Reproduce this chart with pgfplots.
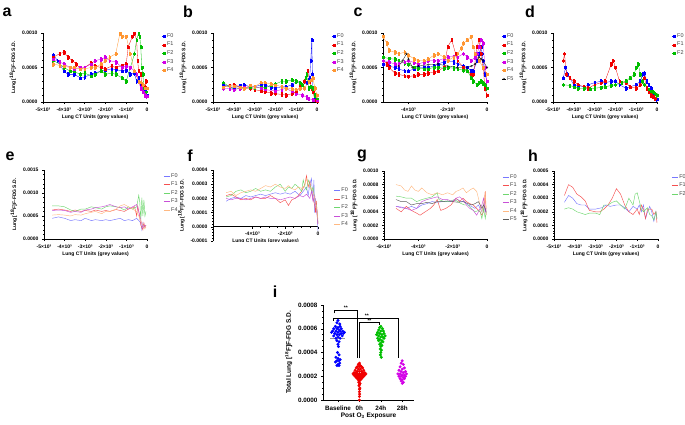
\documentclass[border=0pt]{standalone}
\usepackage{pgfplots}
\pgfplotsset{compat=1.18}
\usepackage{fontspec}
\setmainfont{Liberation Sans}
\definecolor{cF0}{RGB}{0,0,255}
\definecolor{cF1}{RGB}{240,0,0}
\definecolor{cF2}{RGB}{0,190,0}
\definecolor{cF3}{RGB}{210,0,230}
\definecolor{cF4}{RGB}{255,150,50}
\definecolor{cF5}{RGB}{40,40,40}
\definecolor{lF0}{RGB}{120,120,255}
\definecolor{lF1}{RGB}{245,80,80}
\definecolor{lF2}{RGB}{110,215,110}
\definecolor{lF3}{RGB}{200,80,215}
\definecolor{lF4}{RGB}{255,185,130}
\definecolor{lF5}{RGB}{90,90,90}
\pgfplotsset{
 gp/.style={scale only axis, axis x line*=bottom, axis y line*=left,
  axis line style={line width=0.7pt,-}, tick align=outside,
  major tick length=2pt, minor tick length=1pt,
  every tick/.style={black,line width=0.5pt},
  scaled ticks=false,
  tick label style={font=\fontsize{5}{5}\selectfont\bfseries},
  label style={font=\fontsize{5}{6}\selectfont\bfseries},
  xlabel={Lung CT Units (grey values)},
  ylabel={Lung [\textsuperscript{18}F]F-FDG S.D.},
  xlabel style={yshift=3pt}, ylabel style={yshift=-1pt},
  minor x tick num=4, minor y tick num=4,
  legend style={draw=none, fill=none, font=\fontsize{5.5}{6}\selectfont\color{black!75},
   at={(1.11,1.04)}, anchor=north west, row sep=0.8pt, nodes={inner sep=1.2pt}},
  legend cell align=left,
 },
 mk/.style={#1, line width=0.3pt, mark=square*, mark size=0.9pt, mark options={solid},
   error bars/.cd, y dir=both, y fixed=0.000025,
   error bar style={#1, line width=0.3pt}},
 ln/.style={#1, line width=0.45pt, no marks},
 mkleg/.style={legend image code/.code={\draw[##1,mark repeat=2,mark phase=2] plot coordinates {(0pt,0pt)(2pt,0pt)(4pt,0pt)};}},
 lnleg/.style={legend image code/.code={\draw[##1] plot coordinates {(0pt,0pt)(6pt,0pt)};}},
 xa/.style={xmin=-5000, xmax=0, xtick={-5000,-4000,-3000,-2000,-1000,0},
   xticklabels={-5×10³,-4×10³,-3×10³,-2×10³,-1×10³,0}},
 ya/.style={ymin=0, ymax=0.001, ytick={0,0.0005,0.001}, yticklabels={0.0000,0.0005,0.0010}},
}
\begin{document}
\begin{tikzpicture}[x=1pt,y=1pt]
\path[use as bounding box] (0,0) rectangle (685,424);
\begin{scope}[font=\fontsize{16}{16}\selectfont\bfseries]
\node at (7,412) {a};
\node at (188,412) {b};
\node at (358,412) {c};
\node at (530,412) {d};
\node at (10,268) {e};
\node at (190,268) {f};
\node at (362,268) {g};
\node at (533,268) {h};
\node at (275,132) {i};
\end{scope}

% ---------- a ----------
\begin{axis}[gp, mkleg, xa, ya, at={(43pt,322pt)}, anchor=south west, width=104pt, height=69pt]
\addplot[mk=cF0] coordinates {(-4500,0.00068)(-4300,0.0006)(-4000,0.00045)(-3800,0.0004)(-3500,0.0004)(-3200,0.00035)(-3000,0.00036)(-2700,0.0004)(-2500,0.00042)(-2200,0.00045)(-2000,0.00046)(-1700,0.00048)(-1500,0.00047)(-1200,0.00045)(-1000,0.00046)(-800,0.0004)(-600,0.00042)(-500,0.0003)(-400,0.00035)(-300,0.00025)(-250,0.0002)(-200,0.00025)(-150,0.00015)(-100,0.00018)(-50,0.0001)(0,0.0001)};
\addlegendentry{F0}
\addplot[mk=cF1] coordinates {(-4500,0.00065)(-4200,0.0007)(-4000,0.00072)(-3800,0.00065)(-3600,0.0006)(-3400,0.00055)(-3200,0.00048)(-3000,0.0005)(-2700,0.00056)(-2500,0.00052)(-2200,0.0005)(-2000,0.00048)(-1700,0.00052)(-1500,0.0005)(-1200,0.00053)(-1000,0.00055)(-900,0.0008)(-700,0.00095)(-600,0.001)(-500,0.0009)(-450,0.0006)(-400,0.00045)(-300,0.0004)(-250,0.00025)(-200,0.0002)(-100,0.00022)(-50,0.0003)};
\addlegendentry{F1}
\addplot[mk=cF2] coordinates {(-4500,0.0006)(-4200,0.00055)(-4000,0.0005)(-3700,0.00045)(-3500,0.00044)(-3200,0.0004)(-3000,0.00042)(-2700,0.00038)(-2500,0.0004)(-2200,0.00045)(-2000,0.0004)(-1700,0.00042)(-1500,0.0004)(-1200,0.00035)(-1000,0.0003)(-800,0.0005)(-600,0.0007)(-500,0.0009)(-400,0.001)(-350,0.00095)(-300,0.0008)(-250,0.0005)(-200,0.0004)(-150,0.0002)(-100,0.00015)(-50,0.00015)};
\addlegendentry{F2}
\addplot[mk=cF3] coordinates {(-4500,0.00062)(-4200,0.00058)(-4000,0.00055)(-3700,0.0005)(-3500,0.00048)(-3200,0.0005)(-3000,0.0005)(-2700,0.00055)(-2500,0.0006)(-2200,0.00062)(-2000,0.00065)(-1800,0.0006)(-1500,0.00058)(-1200,0.0005)(-1000,0.00052)(-800,0.0005)(-600,0.00045)(-500,0.0004)(-400,0.0003)(-300,0.0002)(-200,0.00015)(-100,0.0001)(0,0.00008)};
\addlegendentry{F3}
\addplot[mk=cF4] coordinates {(-4500,0.00055)(-4200,0.00053)(-4000,0.00052)(-3700,0.0005)(-3500,0.0005)(-3200,0.00048)(-3000,0.00048)(-2700,0.0005)(-2500,0.0005)(-2200,0.00055)(-2000,0.0006)(-1800,0.00065)(-1500,0.0007)(-1300,0.001)(-1200,0.00095)(-1000,0.00095)(-800,0.0007)(-600,0.00045)(-400,0.0003)(-300,0.00028)(-200,0.00025)(-100,0.0002)(0,0.0002)};
\addlegendentry{F4}
\end{axis}

% ---------- b ----------
\begin{axis}[gp, mkleg, xa, ya, at={(213pt,322pt)}, anchor=south west, width=104pt, height=69pt]
\addplot[mk=cF0] coordinates {(-4500,0.00025)(-4200,0.00022)(-4000,0.0002)(-3700,0.00024)(-3500,0.00025)(-3200,0.00022)(-3000,0.00022)(-2700,0.00025)(-2500,0.00025)(-2200,0.00021)(-2000,0.0002)(-1700,0.00022)(-1500,0.00022)(-1200,0.00025)(-1000,0.0003)(-800,0.00028)(-700,0.00025)(-500,0.00028)(-400,0.00032)(-350,0.00035)(-300,0.0006)(-250,0.0009)(-220,0.0004)(-200,0.0002)(-100,0.00005)(0,0.00002)};
\addlegendentry{F0}
\addplot[mk=cF1] coordinates {(-4500,0.00022)(-4200,0.00024)(-4000,0.00025)(-3700,0.00022)(-3500,0.0002)(-3200,0.0002)(-3000,0.00018)(-2700,0.00016)(-2500,0.00015)(-2200,0.00013)(-2000,0.00012)(-1700,0.00011)(-1500,0.0001)(-1200,0.00012)(-1000,0.00015)(-800,0.00022)(-600,0.0003)(-500,0.0004)(-450,0.00045)(-350,0.0003)(-250,0.0002)(-200,0.00015)(-100,0.00003)(0,0.00001)};
\addlegendentry{F1}
\addplot[mk=cF2] coordinates {(-4500,0.00028)(-4200,0.00022)(-4000,0.00018)(-3700,0.0002)(-3500,0.0002)(-3200,0.00021)(-3000,0.0002)(-2700,0.00022)(-2500,0.0002)(-2200,0.00025)(-2000,0.00026)(-1700,0.0003)(-1500,0.0003)(-1200,0.00032)(-1000,0.0003)(-800,0.00028)(-700,0.00025)(-550,0.00035)(-500,0.0004)(-400,0.0002)(-300,0.00022)(-200,0.0002)(-100,0.0001)(0,0.00005)};
\addlegendentry{F2}
\addplot[mk=cF3] coordinates {(-4500,0.0002)(-4200,0.00019)(-4000,0.00018)(-3700,0.0002)(-3500,0.00021)(-3000,0.00022)(-2700,0.0002)(-2500,0.00018)(-2000,0.00016)(-1700,0.00018)(-1500,0.0002)(-1200,0.00015)(-1000,0.00012)(-700,0.0001)(-500,0.00007)(-400,0.00005)(-200,0.00003)(0,0.00002)};
\addlegendentry{F3}
\addplot[mk=cF4] coordinates {(-4500,0.00022)(-4200,0.00023)(-4000,0.00023)(-3700,0.00021)(-3500,0.0002)(-3200,0.00024)(-3000,0.00022)(-2700,0.00028)(-2500,0.00028)(-2200,0.00026)(-2000,0.00025)(-1700,0.00022)(-1500,0.0002)(-1200,0.00019)(-1000,0.00018)(-800,0.0002)(-600,0.0002)(-400,0.0003)(-300,0.00032)(-200,0.00035)(-100,0.0002)(0,0.0001)};
\addlegendentry{F4}
\end{axis}

% ---------- c ----------
\begin{axis}[gp, mkleg, ya, at={(383pt,322pt)}, anchor=south west, width=104pt, height=69pt,
  xmin=-5300, xmax=0, xtick={-4000,-2000,0}, xticklabels={-4×10³,-2×10³,0}, minor x tick num=3]
\addplot[mk=cF0] coordinates {(-5300,0.00055)(-5000,0.00052)(-4700,0.0005)(-4500,0.00048)(-4200,0.00045)(-4000,0.00045)(-3700,0.00048)(-3500,0.0005)(-3200,0.0005)(-3000,0.0005)(-2700,0.00052)(-2500,0.00055)(-2200,0.00058)(-2000,0.0006)(-1700,0.00058)(-1500,0.00055)(-1200,0.00052)(-1000,0.0005)(-800,0.00045)(-700,0.00045)(-500,0.0006)(-400,0.0007)(-300,0.0008)(-250,0.0007)(-200,0.0006)(-100,0.0004)(0,0.0003)};
\addlegendentry{F0}
\addplot[mk=cF1] coordinates {(-5300,0.0006)(-5100,0.00055)(-5000,0.0005)(-4700,0.00042)(-4500,0.0004)(-4200,0.00038)(-4000,0.00037)(-3700,0.00038)(-3500,0.0004)(-3200,0.0004)(-3000,0.00042)(-2700,0.00043)(-2500,0.00045)(-2200,0.0005)(-2000,0.0008)(-1800,0.0009)(-1600,0.0007)(-1500,0.0006)(-1200,0.0005)(-1000,0.00045)(-800,0.0004)(-700,0.0004)(-500,0.0008)(-400,0.0009)(-350,0.0008)(-300,0.0007)(-200,0.0005)(-100,0.0002)(0,0.0001)};
\addlegendentry{F1}
\addplot[mk=cF2] coordinates {(-5300,0.00065)(-5000,0.00063)(-4700,0.00062)(-4500,0.0006)(-4200,0.00056)(-4000,0.00055)(-3700,0.0005)(-3500,0.00049)(-3200,0.00048)(-3000,0.00048)(-2700,0.0005)(-2500,0.0005)(-2200,0.00049)(-2000,0.0005)(-1700,0.00049)(-1500,0.00048)(-1200,0.00046)(-1000,0.00045)(-800,0.00035)(-700,0.0003)(-500,0.00025)(-400,0.00028)(-300,0.0003)(-200,0.00027)(-100,0.00025)(0,0.0002)};
\addlegendentry{F2}
\addplot[mk=cF3] coordinates {(-5300,0.0006)(-5000,0.00058)(-4700,0.00055)(-4500,0.00055)(-4200,0.00058)(-4000,0.0006)(-3700,0.00057)(-3500,0.00055)(-3200,0.00058)(-3000,0.0006)(-2700,0.0006)(-2500,0.0006)(-2200,0.00063)(-2000,0.00065)(-1700,0.00066)(-1500,0.00065)(-1200,0.0007)(-1000,0.00065)(-800,0.0006)(-600,0.00065)(-500,0.0007)(-400,0.0008)(-300,0.0009)(-200,0.00085)(-100,0.0005)(0,0.0003)};
\addlegendentry{F3}
\addplot[mk=cF4] coordinates {(-5300,0.00095)(-5100,0.00085)(-5000,0.00075)(-4700,0.00072)(-4500,0.0007)(-4200,0.00072)(-4000,0.00068)(-3700,0.00062)(-3500,0.0006)(-3200,0.0006)(-3000,0.00062)(-2700,0.00068)(-2500,0.0007)(-2200,0.00065)(-2000,0.0006)(-1700,0.00065)(-1500,0.0007)(-1300,0.00078)(-1200,0.00085)(-1000,0.0009)(-800,0.00095)(-700,0.0008)(-600,0.0007)(-400,0.0006)(-200,0.0005)(0,0.0004)};
\addlegendentry{F4}
\addplot[black, line width=0.3pt, mark=o, mark size=0.9pt, mark options={solid}] coordinates {(-4500,0.00052)(-4300,0.0006)(-4100,0.0007)(-4000,0.00062)(-3800,0.0005)(-3500,0.00052)(-3000,0.00054)(-2500,0.00055)(-2000,0.00052)(-1500,0.0005)(-1000,0.0005)(-800,0.00052)(-600,0.00055)(-400,0.00065)(-300,0.00062)(-200,0.0006)(0,0.0005)};
\addlegendentry{F5}
\end{axis}

% ---------- d ----------
\begin{axis}[gp, mkleg, xa, ya, at={(553pt,322pt)}, anchor=south west, width=104pt, height=69pt]
\addplot[mk=cF0] coordinates {(-4500,0.00035)(-4400,0.0005)(-4300,0.0004)(-4000,0.00025)(-3800,0.00024)(-3500,0.00022)(-3300,0.00025)(-3000,0.00028)(-2700,0.0003)(-2500,0.00028)(-2200,0.0003)(-2000,0.0003)(-1800,0.00025)(-1500,0.0002)(-1300,0.00022)(-1000,0.00025)(-800,0.0003)(-700,0.0004)(-600,0.00042)(-500,0.0003)(-400,0.00025)(-300,0.0002)(-200,0.0001)(-100,0.00005)(0,0.00004)};
\addlegendentry{F0}
\addplot[mk=cF1] coordinates {(-4500,0.0006)(-4450,0.0007)(-4350,0.0004)(-4200,0.00035)(-4000,0.0003)(-3800,0.00025)(-3500,0.00022)(-3300,0.0002)(-3000,0.00025)(-2700,0.00028)(-2500,0.0003)(-2200,0.00055)(-2100,0.0006)(-2000,0.0005)(-1800,0.0003)(-1500,0.00028)(-1300,0.00022)(-1000,0.0002)(-800,0.00025)(-700,0.0003)(-600,0.00035)(-500,0.0002)(-400,0.00015)(-300,0.0001)(-200,0.00008)(-100,0.00005)(0,0.0001)};
\addlegendentry{F1}
\addplot[mk=cF2] coordinates {(-4500,0.00025)(-4200,0.00024)(-4000,0.00022)(-3800,0.0002)(-3500,0.0002)(-3200,0.00019)(-3000,0.0002)(-2700,0.00021)(-2500,0.00022)(-2200,0.00024)(-2000,0.00025)(-1700,0.00028)(-1500,0.0003)(-1300,0.00035)(-1100,0.0004)(-1000,0.0005)(-900,0.00055)(-800,0.0004)(-700,0.0003)(-600,0.00025)(-400,0.00018)(-300,0.00016)(-200,0.00015)(-100,0.00012)(0,0.0001)};
\addlegendentry{F2}
\end{axis}

% ---------- e ----------
\begin{axis}[gp, lnleg, xa, at={(44pt,185pt)}, anchor=south west, width=103pt, height=69pt,
  ymin=0, ymax=0.0015, ytick={0,0.0005,0.001,0.0015}, yticklabels={0.0000,0.0005,0.0010,0.0015},
  legend style={at={(1.13,1.0)}}]
\addplot[ln=lF0] coordinates {(-4600,0.00045)(-4300,0.00048)(-4000,0.00045)(-3700,0.0004)(-3500,0.00042)(-3200,0.0004)(-3000,0.00045)(-2700,0.0004)(-2500,0.00042)(-2200,0.0004)(-2000,0.00042)(-1800,0.0004)(-1500,0.00043)(-1300,0.00045)(-1100,0.0004)(-900,0.00042)(-700,0.0004)(-500,0.00045)(-400,0.0004)(-300,0.00035)(-250,0.0002)(-200,0.00035)(-150,0.00025)(-100,0.0003)(-50,0.00028)};
\addlegendentry{F0}
\addplot[ln=lF1] coordinates {(-4600,0.00063)(-4300,0.00065)(-4000,0.00063)(-3700,0.0006)(-3500,0.00063)(-3200,0.0006)(-3000,0.00062)(-2700,0.0006)(-2500,0.00063)(-2200,0.0006)(-2000,0.00062)(-1800,0.0006)(-1500,0.00064)(-1300,0.00062)(-1100,0.0006)(-900,0.00065)(-700,0.00068)(-600,0.0007)(-500,0.0005)(-450,0.00072)(-400,0.0006)(-300,0.0003)(-200,0.0002)(-150,0.00035)(-100,0.00025)(-50,0.0003)};
\addlegendentry{F1}
\addplot[ln=lF2] coordinates {(-4600,0.00072)(-4300,0.00072)(-4000,0.0007)(-3700,0.00063)(-3500,0.0006)(-3200,0.00065)(-3000,0.00065)(-2700,0.0007)(-2500,0.00068)(-2200,0.00065)(-2000,0.0007)(-1800,0.00072)(-1500,0.0007)(-1300,0.00068)(-1100,0.00063)(-900,0.0007)(-700,0.00065)(-500,0.0007)(-400,0.00095)(-350,0.0008)(-300,0.0004)(-250,0.0009)(-200,0.0005)(-150,0.00085)(-100,0.0005)(-50,0.0006)};
\addlegendentry{F2}
\addplot[ln=lF3] coordinates {(-4600,0.00062)(-4300,0.00063)(-4000,0.00062)(-3700,0.00058)(-3500,0.0006)(-3200,0.00058)(-3000,0.00063)(-2700,0.00065)(-2500,0.00068)(-2200,0.0007)(-2000,0.00072)(-1800,0.00075)(-1500,0.0007)(-1300,0.00068)(-1100,0.0007)(-900,0.00065)(-700,0.0007)(-500,0.00075)(-400,0.0006)(-300,0.0004)(-200,0.00025)(-100,0.0003)(-50,0.00025)};
\addlegendentry{F3}
\addplot[ln=lF4] coordinates {(-4600,0.00052)(-4300,0.00053)(-4000,0.00052)(-3700,0.0005)(-3500,0.00053)(-3200,0.00052)(-3000,0.00055)(-2700,0.00058)(-2500,0.0006)(-2200,0.00055)(-2000,0.0006)(-1800,0.0006)(-1500,0.00065)(-1300,0.00072)(-1100,0.00075)(-900,0.0007)(-700,0.00065)(-500,0.0006)(-400,0.0005)(-300,0.0004)(-200,0.0003)(-100,0.00022)(-50,0.0003)};
\addlegendentry{F4}
\end{axis}

% ---------- f ----------
\begin{axis}[gp, lnleg, at={(213pt,183pt)}, anchor=south west, width=105pt, height=71pt,
  axis x line*=middle, hide obscured x ticks=false, hide obscured y ticks=false,
  xmin=-6400, xmax=0, xtick={-4000,-2000,0}, xticklabels={-4×10³,-2×10³,0}, minor x tick num=3,
  ymin=-0.0001, ymax=0.0004, ytick={-0.0001,0,0.0001,0.0002,0.0003,0.0004},
  yticklabels={-0.0001,0.0000,0.0001,0.0002,0.0003,0.0004},
  xlabel={}, legend style={at={(1.12,0.8)}}]
\addplot[ln=lF0] coordinates {(-5600,0.00018)(-5300,0.0002)(-5000,0.00021)(-4700,0.0002)(-4400,0.00022)(-4100,0.00021)(-3800,0.00022)(-3500,0.00023)(-3200,0.00022)(-2900,0.00023)(-2600,0.00024)(-2300,0.00023)(-2000,0.00024)(-1700,0.00023)(-1400,0.00025)(-1100,0.00022)(-900,0.00025)(-700,0.00028)(-600,0.00022)(-500,0.0003)(-400,0.00034)(-300,0.00018)(-250,0.00033)(-200,0.0001)(-150,0.0002)(-100,0.00015)(-50,0.0001)(0,-0.00003)};
\addlegendentry{F0}
\addplot[ln=lF1] coordinates {(-5600,0.00022)(-5300,0.00023)(-5000,0.00021)(-4700,0.00019)(-4400,0.0002)(-4100,0.00019)(-3800,0.00021)(-3500,0.0002)(-3200,0.0002)(-2900,0.00022)(-2600,0.0002)(-2300,0.00017)(-2000,0.00019)(-1800,0.00015)(-1600,0.00019)(-1400,0.0002)(-1200,0.00022)(-1000,0.00025)(-800,0.0003)(-700,0.00036)(-600,0.00028)(-500,0.00032)(-400,0.00025)(-300,0.0002)(-200,0.00015)(-150,0.0001)(-100,0.00018)(-50,0.0001)(0,0.00002)};
\addlegendentry{F1}
\addplot[ln=lF2] coordinates {(-5600,0.00021)(-5300,0.00022)(-5000,0.00025)(-4700,0.00026)(-4400,0.00024)(-4100,0.00025)(-3800,0.00027)(-3500,0.00025)(-3200,0.00026)(-2900,0.00025)(-2600,0.00028)(-2300,0.0003)(-2000,0.00025)(-1800,0.00028)(-1600,0.00027)(-1400,0.0003)(-1200,0.00028)(-1000,0.00025)(-900,0.00033)(-800,0.00028)(-700,0.00026)(-600,0.00033)(-500,0.0003)(-400,0.00025)(-300,0.00028)(-200,0.0002)(-100,0.00015)(0,0.00003)};
\addlegendentry{F2}
\addplot[ln=lF3] coordinates {(-5600,0.0002)(-5300,0.00019)(-5000,0.0002)(-4700,0.0002)(-4400,0.00019)(-4100,0.0002)(-3800,0.00021)(-3500,0.0002)(-3200,0.00021)(-2900,0.0002)(-2600,0.0002)(-2300,0.00019)(-2000,0.0002)(-1700,0.00021)(-1400,0.0002)(-1100,0.00022)(-900,0.00021)(-700,0.00023)(-500,0.0002)(-400,0.00025)(-300,0.00018)(-200,0.00022)(-100,0.00012)(0,0.00002)};
\addlegendentry{F3}
\addplot[ln=lF4] coordinates {(-5600,0.00024)(-5300,0.00025)(-5000,0.00022)(-4700,0.00024)(-4400,0.00025)(-4100,0.00026)(-3800,0.00025)(-3500,0.00027)(-3200,0.00029)(-2900,0.00028)(-2600,0.0003)(-2300,0.00028)(-2000,0.00027)(-1800,0.00029)(-1600,0.00027)(-1400,0.00026)(-1200,0.00028)(-1000,0.00027)(-800,0.00029)(-700,0.00034)(-600,0.0003)(-500,0.00028)(-400,0.00027)(-300,0.00025)(-200,0.0002)(-100,0.00015)(0,0.00005)};
\addlegendentry{F4}
\node[font=\fontsize{5}{6}\selectfont\bfseries] at (axis description cs:0.5,0.0) {Lung CT Units (grey values)};
\end{axis}

% ---------- g ----------
\begin{axis}[gp, lnleg, at={(384pt,185pt)}, anchor=south west, width=103pt, height=68pt,
  xmin=-6000, xmax=0, xtick={-6000,-4000,-2000,0}, xticklabels={-6×10³,-4×10³,-2×10³,0}, minor x tick num=3,
  ymin=0, ymax=0.001, ytick={0,0.0002,0.0004,0.0006,0.0008,0.001},
  yticklabels={0.0000,0.0002,0.0004,0.0006,0.0008,0.0010},
  legend style={at={(1.12,1.0)}}]
\addplot[ln=lF0] coordinates {(-5300,0.00048)(-5000,0.00047)(-4700,0.00045)(-4400,0.00048)(-4100,0.00045)(-3800,0.0005)(-3500,0.00052)(-3200,0.00055)(-2900,0.00054)(-2600,0.00055)(-2300,0.00055)(-2000,0.00056)(-1700,0.00058)(-1500,0.00055)(-1300,0.00055)(-1100,0.0005)(-900,0.00048)(-700,0.00045)(-500,0.0005)(-400,0.00045)(-300,0.0004)(-200,0.00052)(-100,0.0004)(-50,0.00042)};
\addlegendentry{F0}
\addplot[ln=lF1] coordinates {(-5300,0.00045)(-5000,0.0004)(-4700,0.00048)(-4400,0.00042)(-4100,0.00038)(-3900,0.00035)(-3600,0.0004)(-3300,0.00045)(-3100,0.0005)(-2900,0.00058)(-2700,0.00042)(-2400,0.00045)(-2100,0.0005)(-1800,0.0006)(-1600,0.00055)(-1400,0.0006)(-1200,0.00055)(-1000,0.00052)(-800,0.0005)(-600,0.00045)(-400,0.0004)(-300,0.00035)(-200,0.0004)(-100,0.0007)(-50,0.00035)};
\addlegendentry{F1}
\addplot[ln=lF2] coordinates {(-5300,0.00063)(-5000,0.00062)(-4700,0.0006)(-4400,0.0006)(-4100,0.00055)(-3800,0.00058)(-3500,0.0006)(-3200,0.00062)(-2900,0.00068)(-2800,0.00058)(-2500,0.00055)(-2200,0.00055)(-1900,0.00058)(-1700,0.00055)(-1500,0.00052)(-1300,0.0005)(-1100,0.0005)(-900,0.00045)(-700,0.0004)(-500,0.00042)(-400,0.0004)(-300,0.0003)(-200,0.00045)(-100,0.0003)(-50,0.0004)};
\addlegendentry{F2}
\addplot[ln=lF3] coordinates {(-5300,0.00048)(-5000,0.00046)(-4700,0.00045)(-4400,0.00042)(-4100,0.00045)(-3800,0.00055)(-3500,0.00058)(-3200,0.0006)(-2900,0.00062)(-2600,0.00058)(-2300,0.00058)(-2000,0.00055)(-1800,0.0006)(-1600,0.00062)(-1400,0.00058)(-1200,0.0005)(-1000,0.00045)(-800,0.00042)(-600,0.00035)(-400,0.00045)(-300,0.0005)(-200,0.0006)(-100,0.0004)(-50,0.00045)};
\addlegendentry{F3}
\addplot[ln=lF4] coordinates {(-5300,0.0008)(-5000,0.00078)(-4800,0.00072)(-4600,0.0007)(-4400,0.00078)(-4200,0.00072)(-4000,0.0007)(-3800,0.00075)(-3500,0.00068)(-3200,0.00065)(-2900,0.00068)(-2600,0.00065)(-2300,0.00068)(-2000,0.00065)(-1800,0.0007)(-1600,0.00072)(-1400,0.00075)(-1200,0.00068)(-1000,0.00072)(-800,0.00075)(-600,0.0007)(-400,0.0005)(-300,0.0004)(-200,0.0005)(-100,0.0007)(-50,0.00045)};
\addlegendentry{F4}
\addplot[ln=lF5] coordinates {(-5300,0.00058)(-5000,0.00055)(-4700,0.00055)(-4400,0.0005)(-4100,0.00052)(-3800,0.00052)(-3500,0.00054)(-3200,0.00052)(-2900,0.00055)(-2600,0.00055)(-2300,0.00056)(-2000,0.00055)(-1700,0.00054)(-1400,0.00055)(-1100,0.00052)(-900,0.0005)(-700,0.00052)(-500,0.00055)(-400,0.0005)(-300,0.00045)(-200,0.0005)(-100,0.00045)(-50,0.0004)};
\addlegendentry{F5}
\end{axis}

% ---------- h ----------
\begin{axis}[gp, lnleg, xa, at={(554pt,185pt)}, anchor=south west, width=104pt, height=68pt,
  ymin=0, ymax=0.0005, ytick={0,0.0001,0.0002,0.0003,0.0004,0.0005},
  yticklabels={0.0000,0.0001,0.0002,0.0003,0.0004,0.0005},
  legend style={at={(1.1,1.0)}}]
\addplot[ln=lF0] coordinates {(-4500,0.00027)(-4300,0.00032)(-4100,0.0003)(-3900,0.00026)(-3700,0.00025)(-3500,0.00025)(-3300,0.00022)(-3000,0.00022)(-2700,0.00023)(-2500,0.00025)(-2300,0.00024)(-2000,0.00025)(-1800,0.00025)(-1600,0.00023)(-1400,0.0002)(-1200,0.00024)(-1000,0.00022)(-900,0.00025)(-800,0.0002)(-700,0.00025)(-600,0.00015)(-500,0.0002)(-400,0.00024)(-300,0.0002)(-200,0.00013)(-100,0.0002)(-50,0.00015)};
\addlegendentry{F0}
\addplot[ln=lF1] coordinates {(-4500,0.00032)(-4300,0.0004)(-4100,0.00038)(-3900,0.00033)(-3700,0.00031)(-3500,0.00028)(-3300,0.00021)(-3000,0.0002)(-2800,0.0002)(-2600,0.00022)(-2400,0.00025)(-2200,0.0003)(-2000,0.00037)(-1800,0.00033)(-1600,0.00025)(-1400,0.0002)(-1200,0.00018)(-1000,0.00022)(-900,0.00018)(-800,0.00025)(-700,0.00022)(-600,0.00015)(-500,0.00022)(-300,0.00022)(-200,0.00018)(-100,0.0002)(-50,0.00012)};
\addlegendentry{F1}
\addplot[ln=lF2] coordinates {(-4500,0.00022)(-4300,0.00023)(-4100,0.00022)(-3900,0.0002)(-3700,0.00019)(-3500,0.00018)(-3300,0.00019)(-3000,0.00019)(-2800,0.00018)(-2600,0.00025)(-2400,0.00025)(-2200,0.00027)(-2000,0.00028)(-1800,0.00025)(-1600,0.00022)(-1400,0.0003)(-1200,0.00025)(-1100,0.00033)(-1000,0.00034)(-900,0.00028)(-800,0.00022)(-700,0.0002)(-500,0.00023)(-400,0.00018)(-300,0.00017)(-200,0.00014)(-100,0.0002)(-50,0.00015)};
\addlegendentry{F2}
\end{axis}

% ---------- i ----------
\begin{axis}[gp, at={(323pt,24pt)}, anchor=south west, width=91pt, height=95pt,
  xmin=-0.7, xmax=3.55, xtick={0,1,2,3}, xticklabels={Baseline,0h,24h,28h}, minor x tick num=0,
  ymin=0, ymax=0.0008, ytick={0,0.0002,0.0004,0.0006,0.0008},
  yticklabels={0.0000,0.0002,0.0004,0.0006,0.0008}, minor y tick num=3,
  tick label style={font=\fontsize{6.3}{7}\selectfont\bfseries},
  label style={font=\fontsize{6.5}{7}\selectfont\bfseries},
  xlabel style={yshift=1pt},
  xlabel={Post O\textsubscript{3} Exposure},
  ylabel={Total Lung [\textsuperscript{18}F]F-FDG S.D.}, clip=false]
\addplot[only marks, mark=*, mark size=1.3pt, color=cF0] coordinates {(0,0.00067)(-0.05,0.00065)(0.08,0.00064)(-0.12,0.00062)(0.1,0.00062)(0.0,0.00061)(-0.2,0.0006)(0.15,0.0006)(-0.05,0.0006)(0.05,0.00059)(-0.25,0.00058)(0.22,0.00058)(-0.1,0.00058)(0.1,0.00058)(0.3,0.00057)(-0.3,0.00057)(0.0,0.00057)(-0.15,0.00056)(0.15,0.00056)(0.25,0.00056)(-0.05,0.00055)(0.06,0.00055)(-0.2,0.00054)(0.2,0.00054)(0.0,0.00053)(-0.1,0.00052)(0.1,0.00052)(-0.05,0.0005)(0.05,0.00049)(0,0.00047)(0.02,0.00045)(-0.02,0.0004)(0.05,0.00038)(-0.1,0.00036)(0.0,0.00035)(0.1,0.00034)(-0.05,0.00033)(0.05,0.00033)(-0.12,0.00032)(0.08,0.00031)(0,0.0003)(-0.05,0.00029)(0.05,0.00029)};
\addplot[only marks, mark=*, mark size=1.3pt, color=cF1] coordinates {(1,0.00031)(0.95,0.0003)(1.05,0.00029)(0.9,0.00028)(1.1,0.00028)(1,0.00028)(0.85,0.00027)(1.15,0.00027)(0.95,0.00026)(1.05,0.00026)(0.8,0.00025)(1.2,0.00025)(0.9,0.00024)(1.1,0.00024)(1.0,0.00024)(0.75,0.00023)(1.25,0.00023)(0.85,0.00023)(1.15,0.00023)(0.7,0.00022)(0.8,0.00022)(0.9,0.00022)(1.0,0.00022)(1.1,0.00022)(1.2,0.00022)(1.3,0.00022)(0.75,0.00021)(0.85,0.00021)(0.95,0.00021)(1.05,0.00021)(1.15,0.00021)(1.25,0.00021)(0.8,0.0002)(0.9,0.0002)(1,0.0002)(1.1,0.0002)(1.2,0.0002)(0.85,0.00019)(0.95,0.00019)(1.05,0.00019)(1.15,0.00019)(0.9,0.00018)(1.0,0.00018)(1.1,0.00018)(0.95,0.00017)(1.05,0.00017)(1,0.00016)(0.97,0.00015)(1.03,0.00014)(1,0.00013)(0.98,0.00012)(1.02,0.0001)(1,0.00009)(1,0.00007)(1.01,0.00005)(1,0.00003)(1,0.0)};
\addplot[only marks, mark=*, mark size=1.3pt, color=cF2] coordinates {(2,0.00062)(1.95,0.00061)(2.08,0.0006)(1.9,0.00059)(2.12,0.00058)(2,0.00058)(1.85,0.00057)(2.15,0.00056)(1.95,0.00056)(2.05,0.00055)(1.8,0.00055)(2.2,0.00054)(1.9,0.00054)(2.1,0.00053)(2,0.00053)(1.85,0.00052)(2.15,0.00052)(1.95,0.00051)(2.05,0.0005)(1.9,0.0005)(2.1,0.00049)(2,0.00048)(1.95,0.00047)(2.05,0.00046)(2,0.00045)(1.97,0.00043)(2.03,0.00042)(2,0.0004)(1.98,0.00038)(2.02,0.00036)};
\addplot[only marks, mark=*, mark size=1.3pt, color=cF3] coordinates {(3,0.00033)(2.95,0.00031)(3.05,0.0003)(2.9,0.00028)(3.1,0.00027)(3,0.00026)(2.85,0.00025)(3.15,0.00024)(2.95,0.00024)(3.05,0.00023)(2.8,0.00022)(3.2,0.00022)(2.9,0.00022)(3.1,0.00021)(3,0.00021)(2.85,0.0002)(3.15,0.0002)(2.95,0.0002)(3.05,0.00019)(2.9,0.00018)(3.1,0.00018)(3,0.00017)(2.95,0.00016)(3.05,0.00015)(3,0.00014)};
\addplot[black!40, line width=0.6pt] coordinates {(-0.35,0.00052)(0.35,0.00052)};
\addplot[black, line width=0.5pt] coordinates {(-0.17,0.00073)(-0.17,0.000752)(0.9,0.000752)(0.9,0.000351)};
\addplot[black, line width=0.5pt] coordinates {(1.0,0.000351)(1.0,0.000651)(1.94,0.000651)(1.94,0.000632)};
\addplot[black, line width=0.5pt] coordinates {(-0.22,0.000668)(-0.22,0.000688)(2.83,0.000688)(2.83,0.00035)};
\node[font=\fontsize{5}{5}\selectfont\bfseries] at (axis cs:0.37,0.00078) {**};
\node[font=\fontsize{5}{5}\selectfont\bfseries] at (axis cs:1.47,0.00067) {**};
\node[font=\fontsize{5}{5}\selectfont\bfseries] at (axis cs:1.35,0.00071) {**};
\end{axis}
\end{tikzpicture}
\end{document}
